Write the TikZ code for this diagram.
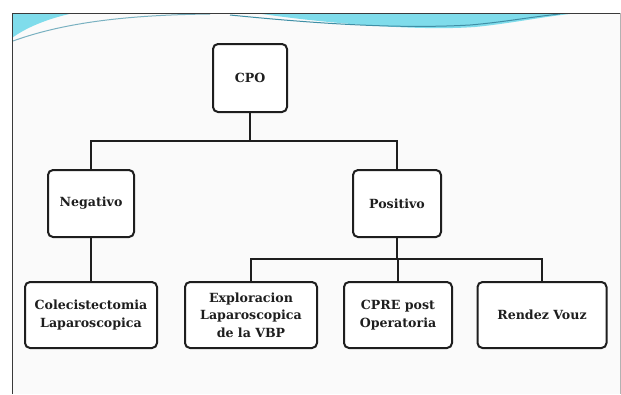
\documentclass[tikz,border=0pt]{standalone}
\usepackage{fontspec}
\setmainfont{DejaVu Serif}
\usepackage{xcolor}
\usepackage{tikz}
\usetikzlibrary{positioning,calc}
\definecolor{SlideInk}{HTML}{1E1E1E}
\definecolor{SlidePaper}{HTML}{FAFAFA}
\definecolor{SlideFrame}{HTML}{3A3A3A}
\definecolor{SwooshCyan}{HTML}{7FDCEB}
\definecolor{SwooshTeal}{HTML}{3F8FA6}
\tikzset{
  block/.style={draw=SlideInk,line width=2pt,rounded corners=5pt,fill=white,align=center,
    inner sep=2pt,font=\fontsize{12.6}{17.5}\selectfont\bfseries,text=SlideInk},
  link/.style={draw=SlideInk,line width=2pt}
}
\begin{document}
\begin{tikzpicture}[x=1pt,y=-1pt]
  \useasboundingbox (0,0) rectangle (621,394);
  % slide background and frame
  \fill[white] (0,0) rectangle (621,394);
  \fill[SlidePaper] (12,13) rectangle (620,394);
  \fill[SwooshCyan] (12,13) -- (74,13) .. controls (45,19) and (24,29) .. (12,38) -- cycle;
  \draw[SwooshTeal!70,line width=1pt] (13,41) .. controls (60,24) and (120,15) .. (210,14);
  \fill[SwooshCyan] (255,13) .. controls (330,24) and (420,31) .. (475,27) .. controls (515,23) and (545,16) .. (580,13) -- cycle;
  \draw[SwooshTeal,line width=1pt] (230,15) .. controls (320,24) and (400,29) .. (470,25) .. controls (505,22) and (530,17) .. (560,14);
  \draw[SlideFrame,line width=1pt] (12,394) -- (12,13) -- (620,13);
  \draw[gray!60,line width=0.8pt] (620,13) -- (620,394);
  % tree
  \node[block,minimum width=74pt,minimum height=68pt] (cpo) at (250,78) {CPO};
  \node[block,minimum width=86pt,minimum height=67pt] (neg) at (91,203.5) {Negativo};
  \node[block,minimum width=88pt,minimum height=67pt] (pos) at (397,203.5) {Positivo};
  \node[block,minimum width=132pt,minimum height=66pt] (colec) at (91,315) {Colecistectomia\\Laparoscopica};
  \node[block,minimum width=132pt,minimum height=66pt] (explor) at (251,315) {Exploracion\\Laparoscopica\\de la VBP};
  \node[block,minimum width=108pt,minimum height=66pt] (cpre) at (398,315) {CPRE post\\Operatoria};
  \node[block,minimum width=129pt,minimum height=66pt] (rendez) at (542,315) {Rendez Vouz};
  \coordinate (split1) at (250,141);
  \coordinate (split2) at (397,259);
  \draw[link] (cpo) -- (split1) -| (neg);
  \draw[link] (split1) -| (pos);
  \draw[link] (neg) -- (colec);
  \draw[link] (pos) -- (split2) -| (explor.north);
  \draw[link] (split2) -- (split2 -| cpre.north) -- (cpre.north);
  \draw[link] (split2) -| (rendez);
\end{tikzpicture}
\end{document}
